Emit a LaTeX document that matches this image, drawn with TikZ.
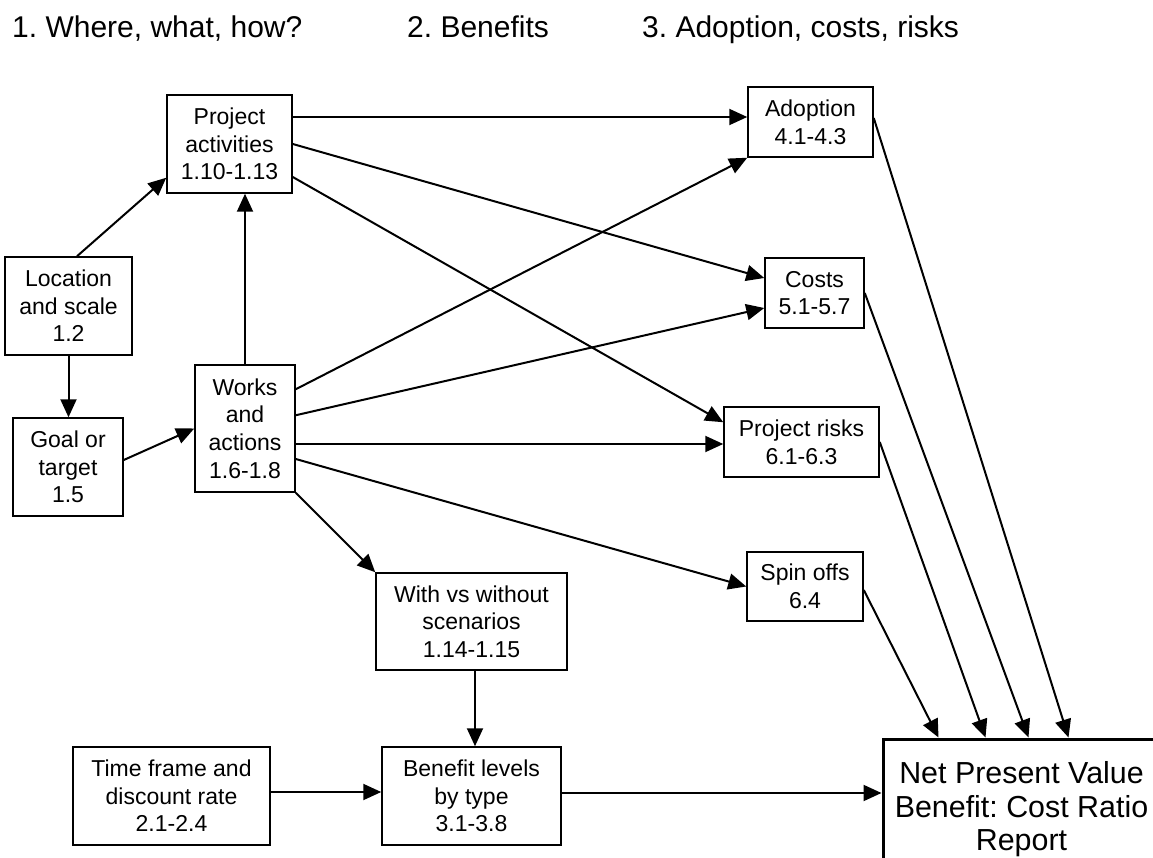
\documentclass[tikz,border=0pt]{standalone}
\usepackage{fontspec}
\setmainfont{Liberation Sans}
\usetikzlibrary{arrows.meta}
\frenchspacing
\begin{document}
\begin{tikzpicture}[x=1pt,y=-1pt,
  box/.style={draw, line width=1.5pt, inner sep=0pt, align=center, font=\fontsize{23}{27.6}\selectfont},
  conn/.style={line width=2pt, -{Triangle[length=18pt,width=16pt]}},
  head/.style={anchor=base west, inner sep=0pt, font=\fontsize{30}{36}\selectfont}]
\useasboundingbox (0,0) rectangle (1153,858);
\clip (0,0) rectangle (1153,858);

% headers
\node[head] (h1) at (12,38) {1. Where, what, how?};
\node[head] (h2) at (407,38) {2. Benefits};
\node[head] (h3) at (642,38) {3. Adoption, costs, risks};

% boxes
\node[box, minimum width=125pt, minimum height=98pt] (proj) at (229.5,144) {Project\\activities\\1.10-1.13};
\node[box, minimum width=127pt, minimum height=98pt] (loc) at (68.5,306) {Location\\and scale\\1.2};
\node[box, minimum width=110pt, minimum height=98pt] (goal) at (68,467) {Goal or\\target\\1.5};
\node[box, minimum width=100pt, minimum height=127pt] (works) at (245,428.5) {Works\\and\\actions\\1.6-1.8};
\node[box, minimum width=125pt, minimum height=70pt] (adopt) at (810.5,122) {Adoption\\4.1-4.3};
\node[box, minimum width=99pt, minimum height=70pt] (costs) at (814.5,293) {Costs\\5.1-5.7};
\node[box, minimum width=155pt, minimum height=70pt] (risks) at (801.5,442) {Project risks\\6.1-6.3};
\node[box, minimum width=116pt, minimum height=69pt] (spin) at (805,586.5) {Spin offs\\6.4};
\node[box, minimum width=191pt, minimum height=97pt] (with) at (471.5,621.5) {With vs without\\scenarios\\1.14-1.15};
\node[box, minimum width=197pt, minimum height=98pt] (time) at (171.5,796) {Time frame and\\discount rate\\2.1-2.4};
\node[box, minimum width=179pt, minimum height=98pt] (ben) at (471.5,796) {Benefit levels\\by type\\3.1-3.8};
\node[draw, line width=3pt, inner sep=0pt, align=center, minimum width=277pt, minimum height=146pt,
      font=\fontsize{30.4}{33.5}\selectfont] (npv) at (1021.5,812) {};
\node[inner sep=0pt, align=center, font=\fontsize{30.4}{33.5}\selectfont] (npvtext) at (1021.5,809.5) {Net Present Value\\Benefit: Cost Ratio\\Report};

% connectors
\draw[conn] ([xshift=8.5pt]loc.north) -- ([yshift=16pt]proj.south west);
\draw[conn] (loc.south) -- (loc.south |- goal.north);
\draw[conn] ([yshift=7pt]goal.east) -- (works.west);
\draw[conn] (works.north) -- (works.north |- proj.south);
\draw[conn] ([yshift=27pt]proj.east) -- ([yshift=27pt]proj.east -| adopt.west);
\draw[conn] (proj.east) -- ([yshift=15pt]costs.west);
\draw[conn] ([yshift=-33pt]proj.east) -- ([yshift=-16pt]risks.north west);
\draw[conn] ([yshift=-25pt]works.north east) -- (adopt.south west);
\draw[conn] ([yshift=-51pt]works.north east) -- ([yshift=-15pt]costs.west);
\draw[conn] ([yshift=-15.5pt]works.east) -- ([yshift=-15.5pt]works.east -| risks.west);
\draw[conn] ([yshift=-30.5pt]works.east) -- (spin.west);
\draw[conn] (works.south east) -- (with.north west);
\draw[conn] ([xshift=3.5pt]with.south) -- ([xshift=3.5pt]with.south |- ben.north);
\draw[conn] ([yshift=4pt]time.east) -- ([yshift=4pt]time.east -| ben.west);
\draw[conn] ([yshift=3pt]ben.east) -- ([yshift=3pt]ben.east -| npv.west);
\draw[conn] ([yshift=4pt]adopt.east) -- ([xshift=187pt]npv.north west);
\draw[conn] (costs.east) -- ([xshift=147pt]npv.north west);
\draw[conn] (risks.east) -- ([xshift=104pt]npv.north west);
\draw[conn] ([yshift=-3.5pt]spin.east) -- ([xshift=57pt]npv.north west);
\end{tikzpicture}
\end{document}
